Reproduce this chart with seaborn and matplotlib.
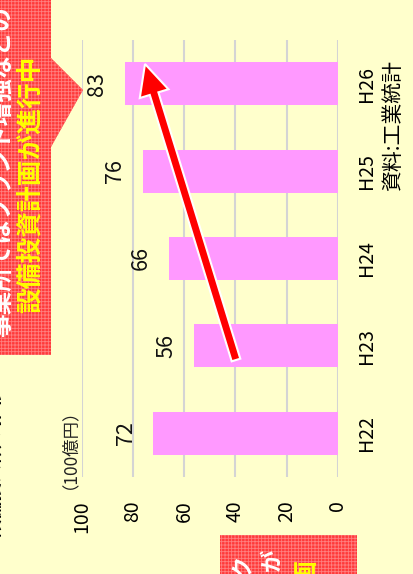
import matplotlib
matplotlib.use('Agg')
import matplotlib.pyplot as plt
import seaborn as sns
import pandas as pd
from matplotlib.patches import Rectangle, Polygon, FancyArrow

# ---- data ----
categories = ['H22', 'H23', 'H24', 'H25', 'H26']
values = [72, 56, 66, 76, 83]
value_ticks = [0, 20, 40, 60, 80, 100]
unit_label = '（100億円）'
source_label = '資料:工業統計'
callout_main = '設備投資計画が進行中'
callout_sub = '事業所ではプラント増強などの'
title_text = '設備投資額の推移'

plt.rcParams['font.family'] = ['Noto Sans CJK JP', 'DejaVu Sans']
plt.rcParams['hatch.linewidth'] = 0.6

BG = '#FFFFCC'
PINK = '#FF99FF'
RED = '#FF3A3A'
W, H = 414, 574
ROT = 90

fig = plt.figure(figsize=(W / 100, H / 100), dpi=100, facecolor=BG)
ax = fig.add_axes([81.5 / W, (H - 477) / H, 256.5 / W, 437 / H])
ax.set_facecolor(BG)

df = pd.DataFrame({'year': categories, 'value': values})
order = categories[::-1]
sns.barplot(data=df, x='value', y='year', order=order, orient='h',
            color=PINK, saturation=1, width=0.49, ax=ax, zorder=2)
ax.set_xlim(100, 0)
ax.set_ylim(4.5, -0.5)
ax.set_xticks(value_ticks)
ax.xaxis.grid(True, color='#D4D4D4', lw=1.5, zorder=0)
ax.yaxis.grid(False)
ax.set_axisbelow(True)
for s in ax.spines.values():
    s.set_visible(False)
ax.set_xlabel('')
ax.set_ylabel('')
ax.yaxis.tick_right()
ax.tick_params(axis='y', length=0, pad=13, labelsize=14)
ax.tick_params(axis='x', length=0, pad=17, labelsize=14)
for lab in ax.get_yticklabels():
    lab.set_rotation(ROT)
    lab.set_va('center')
for lab in ax.get_xticklabels():
    lab.set_rotation(ROT)

for c, v in zip(categories, values):
    ax.annotate(str(v), xy=(v, order.index(c)), xytext=(-20, 0),
                textcoords='offset points', rotation=ROT,
                ha='center', va='center', fontsize=15.5, color='#111111')

# ---- overlay decorations (pixel space) ----
ov = fig.add_axes([0, 0, 1, 1], zorder=5)
ov.set_xlim(0, W)
ov.set_ylim(H, 0)
ov.axis('off')
ov.patch.set_alpha(0)

ov.text(-6, 462, title_text, rotation=ROT, ha='center', va='center',
        fontsize=13.5, fontweight='bold', color='black')

box1 = Polygon([(0, 0), (51, 0), (51, 58), (83, 90), (51, 147), (51, 355), (0, 355)],
               closed=True, facecolor=RED, edgecolor='#FF8080', lw=0, hatch='+++++')
ov.add_patch(box1)
ov.text(2, 172, callout_sub, rotation=ROT, ha='center', va='center',
        fontsize=17, fontweight='bold', color='white')
ov.text(30, 184, callout_main, rotation=ROT, ha='center', va='center',
        fontsize=18.5, fontweight='bold', color='#FFFF00')

box2 = Rectangle((220, 535), 137, 60, facecolor=RED, edgecolor='#FF8080',
                 lw=0, hatch='+++++')
ov.add_patch(box2)
ov.text(243, 566, 'ク', rotation=ROT, ha='center', va='center',
        fontsize=16, fontweight='bold', color='white')
ov.text(272, 560, 'が', rotation=ROT, ha='center', va='center',
        fontsize=16, fontweight='bold', color='white')
ov.text(307, 572, '画', rotation=ROT, ha='center', va='center',
        fontsize=18, fontweight='bold', color='#FFFF00')

ov.text(393, 125.5, source_label, rotation=ROT, ha='center', va='center',
        fontsize=15, color='black')
ov.text(60, 440, unit_label, rotation=ROT, ha='center', va='center',
        fontsize=12.5, color='#222222')

arrow = FancyArrow(236, 360, -91, -296, width=9, head_width=30, head_length=31,
                   length_includes_head=True, facecolor='#FF0000',
                   edgecolor='white', lw=1.5)
ov.add_patch(arrow)

fig.savefig('out.png', dpi=100, facecolor=BG)
